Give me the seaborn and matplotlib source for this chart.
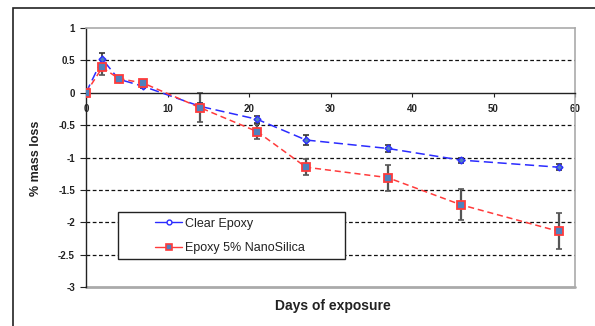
import numpy as np
import pandas as pd
import matplotlib
matplotlib.use("Agg")
import matplotlib.pyplot as plt
import seaborn as sns
from matplotlib.lines import Line2D
from matplotlib.patches import Rectangle

days = [0, 2, 4, 7, 14, 21, 27, 37, 46, 58]
clear_epoxy = [0.0, 0.52, 0.21, 0.10, -0.21, -0.41, -0.73, -0.86, -1.04, -1.15]
clear_err = [0.0, 0.10, 0.03, 0.03, 0.05, 0.05, 0.07, 0.05, 0.04, 0.05]
nano_epoxy = [0.0, 0.39, 0.22, 0.15, -0.23, -0.60, -1.15, -1.31, -1.73, -2.14]
nano_err = [0.0, 0.12, 0.03, 0.03, 0.22, 0.12, 0.12, 0.20, 0.24, 0.28]
series_names = ["Clear Epoxy", "Epoxy 5% NanoSilica"]
y_ticks = [1, 0.5, 0, -0.5, -1, -1.5, -2, -2.5, -3]
x_ticks = [0, 10, 20, 30, 40, 50, 60]

sns.set_theme(style="white")
plt.rcParams['font.family'] = ['Liberation Sans', 'DejaVu Sans']

df = pd.DataFrame({
    "day": days * 2,
    "loss": clear_epoxy + nano_epoxy,
    "series": [series_names[0]] * len(days) + [series_names[1]] * len(days),
})

fig = plt.figure(figsize=(5.95, 3.26), dpi=100)
W, H = 595, 326
ax = fig.add_axes([86 / W, 1 - 287 / H, (575 - 86) / W, (287 - 28) / H])

# outer chart frame
fig.add_artist(Rectangle((13 / W, -0.1), 1.2, 1 - 8 / H + 0.1, transform=fig.transFigure,
                         fill=False, edgecolor="#222222", linewidth=1.2, zorder=0))

blue = "#2B2BFF"
red = "#FF3B3B"
fillc = "#4F81BD"

for yv in [0.5, -0.5, -1, -1.5, -2, -2.5]:
    ax.axhline(yv, color="#111111", linestyle=(0, (3, 2)), linewidth=0.9, zorder=1)

# error bars
ax.errorbar(days, nano_epoxy, yerr=nano_err, fmt="none", ecolor="#555555",
            elinewidth=1.6, capsize=2.5, capthick=1.2, zorder=2)
ax.errorbar(days, clear_epoxy, yerr=clear_err, fmt="none", ecolor="#333333",
            elinewidth=1.2, capsize=2.5, capthick=1.2, zorder=2)

sns.lineplot(data=df, x="day", y="loss", hue="series", style="series",
             palette={series_names[0]: blue, series_names[1]: red},
             dashes={series_names[0]: (6, 3), series_names[1]: (4, 2.5)},
             markers={series_names[0]: "D", series_names[1]: "s"},
             markersize=5, linewidth=1.1, ax=ax, legend=False, zorder=3)
for ln in ax.lines:
    if ln.get_marker() == "D":
        ln.set_markerfacecolor(fillc)
        ln.set_markeredgecolor(blue)
        ln.set_markeredgewidth(1.0)
        ln.set_markersize(3.5)
    elif ln.get_marker() == "s":
        ln.set_markerfacecolor(fillc)
        ln.set_markeredgecolor(red)
        ln.set_markeredgewidth(1.3)
        ln.set_markersize(5.5)

ax.spines["bottom"].set_position(("data", 0))
ax.set_xlim(0, 60)
ax.set_ylim(-3, 1)
ax.set_xticks(x_ticks)
ax.set_yticks(y_ticks)
ax.set_yticklabels([f"{v:g}" for v in y_ticks])
ax.set_xticklabels([str(v) for v in x_ticks])

ax.spines["bottom"].set_color("#222222")
ax.spines["bottom"].set_linewidth(1.0)
ax.spines["left"].set_color("#222222")
ax.spines["left"].set_linewidth(1.0)
for s in ["top", "right"]:
    ax.spines[s].set_color("#AAAAAA")
    ax.spines[s].set_linewidth(1.2)
ax.axhline(-3, color="#AAAAAA", linewidth=2.0, zorder=0, clip_on=False)
ax.tick_params(axis="x", direction="out", length=3, width=0.8, pad=5, colors="#222222",
               bottom=True, labelsize=7)
ax.tick_params(axis="y", direction="out", length=4, width=0.8, pad=4, colors="#222222",
               left=True, labelsize=7)
for t in ax.get_xticklabels() + ax.get_yticklabels():
    t.set_fontweight("bold")
    t.set_color("#222222")

ax.set_xlabel("")
ax.set_ylabel("")
fig.text(333 / W, 1 - 306 / H, "Days of exposure", ha="center", va="center",
         fontsize=10, fontweight="bold", color="#222222")
fig.text(36 / W, 1 - 158 / H, "% mass loss", ha="center", va="center", rotation=90,
         fontsize=9, fontweight="bold", color="#222222")

# legend frame
ax.add_patch(Rectangle((118 / W, 1 - 259 / H), 227 / W, 47 / H, transform=fig.transFigure,
                       facecolor="white", edgecolor="#222222", linewidth=1.0, zorder=9,
                       clip_on=False))
handles = [
    Line2D([], [], color=blue, linewidth=1.0, marker="o", markersize=3.5,
           markerfacecolor="white", markeredgecolor=blue),
    Line2D([], [], color=red, linewidth=1.0, marker="s", markersize=5,
           markerfacecolor=fillc, markeredgecolor=red, markeredgewidth=1.2),
]
leg = ax.legend(handles, series_names, loc="upper left",
                bbox_to_anchor=(151 / W, 1 - 214 / H),
                bbox_transform=fig.transFigure, borderaxespad=0,
                frameon=False, prop={"size": 9}, handlelength=2.2, borderpad=0.3,
                labelspacing=1.0, handletextpad=0.25)
for t in leg.get_texts():
    t.set_color("#222222")
leg.set_zorder(10)

fig.savefig("out.png", dpi=100)
